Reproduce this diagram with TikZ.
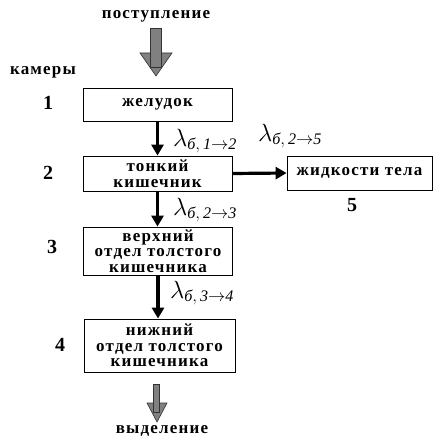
\documentclass[tikz,border=0pt]{standalone}
\usepackage{fontspec}
\setmainfont{Liberation Serif}
\usepackage{amsmath}
\usetikzlibrary{positioning,arrows.meta}
\definecolor{arrowgray}{RGB}{128,128,128}
\definecolor{framegray}{RGB}{50,50,50}

\tikzset{
  chamber/.style={draw, line width=0.8pt, minimum width=149pt, align=center,
    inner xsep=1pt, inner ysep=0pt,
    font=\bfseries\addfontfeature{LetterSpace=7}\fontsize{17}{15.5}\selectfont},
  flow/.style={line width=3.2pt, -{Triangle[length=11pt,width=12pt]}},
  rate/.style={inner sep=0pt, font=\fontsize{23}{25}\selectfont},
  tag/.style={inner sep=0pt, font=\bfseries\addfontfeature{LetterSpace=7}\fontsize{17}{19}\selectfont},
  num/.style={inner sep=0pt, font=\bfseries\fontsize{20}{22}\selectfont},
  fat/.style={fill=arrowgray, draw=framegray, line width=0.6pt}
}
\newcommand{\rateof}[2]{$\lambda_{\text{\itshape б},\,\mathit{#1}\to\mathit{#2}}$}

\begin{document}
\begin{tikzpicture}[x=1pt,y=-1pt]
    \useasboundingbox (0,0) rectangle (434,438);

    % chambers
    \node[chamber, minimum height=33pt] (stomach) at (157.5,104.5) {желудок};
    \node[chamber, minimum height=35pt] (small) at (157.5,173.5) {тонкий\\кишечник};
    \node[chamber, minimum width=145pt, minimum height=34pt] (fluids) at (359.5,173) {жидкости тела};
    \node[chamber, minimum height=48pt] (upper) at (158,251) {верхний\\отдел толстого\\кишечника};
    \node[chamber, minimum width=151pt, minimum height=53pt] (lower) at (159.5,345.5) {нижний\\отдел толстого\\кишечника};

    % numbers
    \node[tag] (chambers) at (43,72) {камеры};
    \node[num] (n1) at (48,103) {1};
    \node[num] (n2) at (48,173) {2};
    \node[num] (n3) at (52,247) {3};
    \node[num] (n4) at (60,345) {4};
    \node[num] (n5) at (352,205) {5};

    % transfers
    \draw[flow] (stomach.south) -- (small.north);
    \draw[flow] (small.south) -- (upper.north -| small.south);
    \draw[flow] (upper.south) -- (upper.south |- lower.north);
    \draw[flow] (small.east) -- (fluids.west);

    \node[rate] (r12) at (205,141) {\rateof{1}{2}};
    \node[rate] (r25) at (290,136) {\rateof{2}{5}};
    \node[rate] (r23) at (205,210) {\rateof{2}{3}};
    \node[rate] (r34) at (202,293) {\rateof{3}{4}};

    % intake and excretion
    \node[tag] (intake) at (156,16) {поступление};
    \fill[fat] (140,53) -- (172,53) -- (156,76) -- cycle;
    \fill[fat] (150,28) rectangle (161,67);
    \node[tag] (excretion) at (162,431) {выделение};
    \fill[fat] (147,403) -- (167,403) -- (157,422) -- cycle;
    \fill[fat] (153.5,384) rectangle (159.5,412);
\end{tikzpicture}
\end{document}
